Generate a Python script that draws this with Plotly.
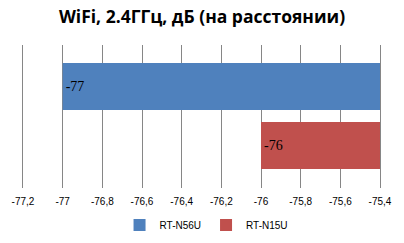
import plotly.graph_objects as go

title = "WiFi, 2.4ГГц, дБ (на расстоянии)"
series = ["RT-N56U", "RT-N15U"]
values = [-77, -76]
labels = ["-77", "-76"]
colors = ["#4F81BD", "#C0504D"]
axis_end = -75.4
tick_vals = [-77.2, -77.0, -76.8, -76.6, -76.4, -76.2, -76.0, -75.8, -75.6, -75.4]
tick_text = ["-77,2", "-77", "-76,8", "-76,6", "-76,4", "-76,2", "-76", "-75,8", "-75,6", "-75,4"]

fig = go.Figure()
for name, v, lab, c in zip(series, values, labels, colors):
    fig.add_trace(go.Bar(
        y=[name], x=[axis_end - v], base=[v], orientation="h",
        name=name, marker=dict(color=c, line=dict(width=0)),
        width=0.797,
        text=[lab], textposition="inside", insidetextanchor="start",
        textangle=0,
        textfont=dict(family="Liberation Serif", size=14, color="black"),
        hoverinfo="skip",
    ))

fig.update_layout(
    width=404, height=243,
    margin=dict(l=23, r=24, t=45, b=55, autoexpand=False),
    paper_bgcolor="white", plot_bgcolor="white",
    barmode="overlay",
    title=dict(text="<b>" + title + "</b>", x=0.5, xanchor="center",
               y=1 - 17 / 243, yanchor="middle", yref="container",
               font=dict(family="Open Sans", size=17.5, color="black")),
    legend=dict(orientation="h", x=0.51, xanchor="center", xref="container",
                y=1 - 225 / 243, yanchor="middle", yref="container",
                font=dict(family="Liberation Sans", size=10, color="black"),
                traceorder="normal", itemwidth=30, tracegroupgap=0),
    showlegend=True,
)
fig.update_xaxes(range=[-77.2, -75.4], tickvals=tick_vals, ticktext=tick_text,
                 showgrid=True, gridcolor="#868686", gridwidth=1,
                 zeroline=False, showline=False, ticks="", ticklabelstandoff=6,
                 tickfont=dict(family="Liberation Sans", size=10, color="black"))
fig.update_yaxes(categoryorder="array", categoryarray=series,
                 range=[1.721, -0.703], showticklabels=False, showgrid=False,
                 zeroline=False, showline=True, mirror=True, linecolor="#868686",
                 linewidth=1, ticks="")

fig.write_html("out.html")
